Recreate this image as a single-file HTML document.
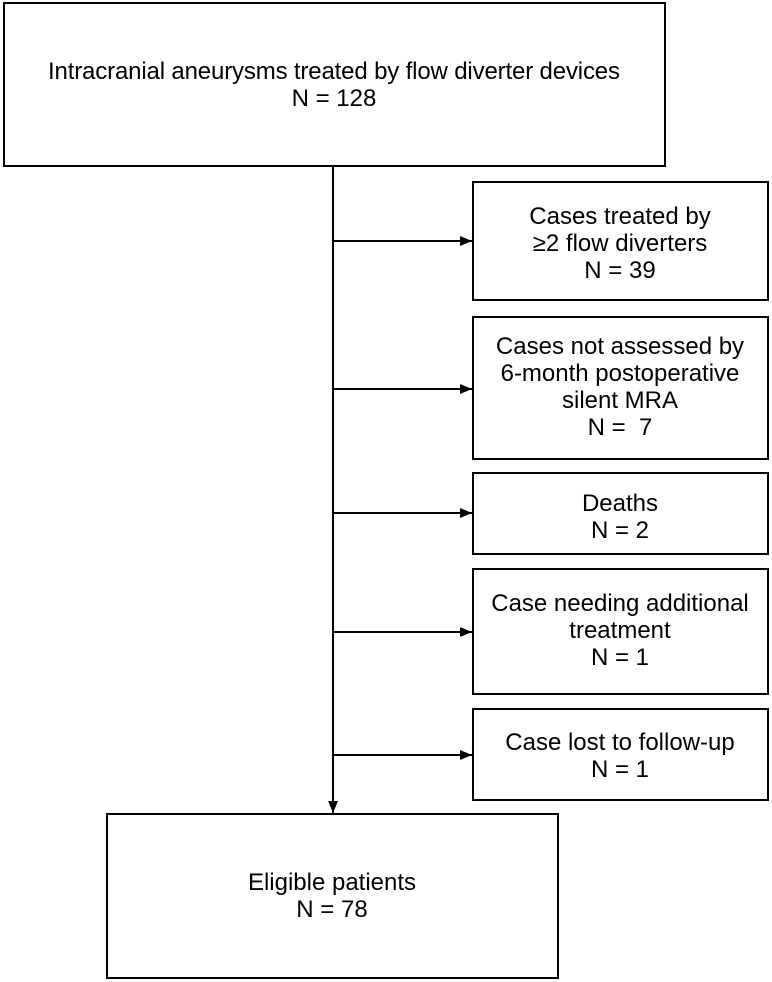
<!DOCTYPE html>
<html><head><style>body{margin:0;background:#fff}svg{display:block}</style></head><body>
<svg width="772" height="982" xmlns="http://www.w3.org/2000/svg" font-family="Liberation Sans, Arial, sans-serif" font-size="24" fill="#000">
<defs><marker id="a" markerWidth="12" markerHeight="10" refX="12" refY="5" orient="auto" markerUnits="userSpaceOnUse"><path d="M0,0 L12,5 L0,10 z"/></marker></defs>
<g fill="none" stroke="#000" stroke-width="2">
<rect x="4" y="3" width="661" height="163"/>
<rect x="473" y="182" width="295" height="118"/>
<rect x="473" y="317" width="295" height="142"/>
<rect x="473" y="473" width="295" height="81"/>
<rect x="473" y="569" width="295" height="125"/>
<rect x="473" y="709" width="295" height="91"/>
<rect x="107" y="814" width="451" height="164"/>
<line x1="333" y1="166" x2="333" y2="813" marker-end="url(#a)"/>
<line x1="333" y1="241" x2="472" y2="241" marker-end="url(#a)"/>
<line x1="333" y1="389" x2="472" y2="389" marker-end="url(#a)"/>
<line x1="333" y1="513" x2="472" y2="513" marker-end="url(#a)"/>
<line x1="333" y1="632" x2="472" y2="632" marker-end="url(#a)"/>
<line x1="333" y1="755" x2="472" y2="755" marker-end="url(#a)"/>
</g>
<g text-anchor="middle">
<text x="334" y="79" textLength="572">Intracranial aneurysms treated by flow diverter devices</text>
<text x="334" y="106">N = 128</text>
<text x="620" y="224">Cases treated by</text>
<text x="620" y="251">≥2 flow diverters</text>
<text x="620" y="278">N = 39</text>
<text x="620" y="354">Cases not assessed by</text>
<text x="620" y="381">6-month postoperative</text>
<text x="620" y="408">silent MRA</text>
<text x="620" y="435">N =&#160; 7</text>
<text x="620" y="511">Deaths</text>
<text x="620" y="538">N = 2</text>
<text x="620" y="611">Case needing additional</text>
<text x="620" y="638">treatment</text>
<text x="620" y="665">N = 1</text>
<text x="620" y="750">Case lost to follow-up</text>
<text x="620" y="777">N = 1</text>
<text x="332" y="890">Eligible patients</text>
<text x="332" y="917">N = 78</text>
</g>
</svg>
</body></html>
